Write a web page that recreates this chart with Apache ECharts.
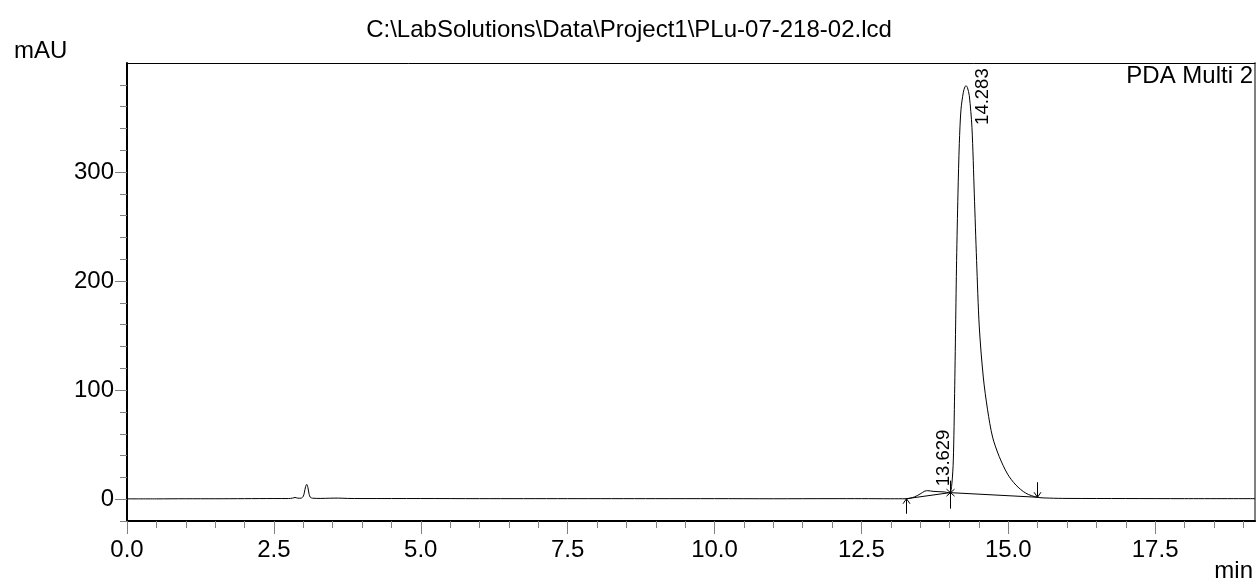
<!DOCTYPE html>
<html><head><meta charset="utf-8">
<script src="https://cdn.jsdelivr.net/npm/echarts@6/dist/echarts.min.js"></script>
<style>html,body{margin:0;padding:0;background:#fff}#c{width:1258px;height:586px}</style>
</head><body><div id="c"></div>
<script>
// ---- data ----
const titleText = 'C:\\LabSolutions\\Data\\Project1\\PLu-07-218-02.lcd';
const channelName = 'PDA Multi 2';
const yUnit = 'mAU';
const xUnit = 'min';

const times = [0.00,0.50,1.00,1.50,2.00,2.50,2.75,2.82,2.86,2.90,2.96,3.00,3.02,3.04,3.06,3.08,3.10,3.12,3.16,3.30,3.45,3.60,3.75,4.00,5.00,6.00,7.50,9.00,10.00,11.00,12.00,12.50,13.00,13.26,13.40,13.50,13.58,13.63,13.72,13.82,13.92,13.98,14.01,14.04,14.065,14.087,14.104,14.121,14.144,14.167,14.195,14.235,14.265,14.283,14.305,14.337,14.382,14.422,14.461,14.507,14.575,14.648,14.733,14.847,14.989,15.13,15.30,15.49,15.70,16.00,17.00,18.00,19.20];
const signal = [0.3,0.3,0.4,0.4,0.5,0.6,0.6,1.0,1.6,1.0,0.9,2.5,6.5,11.5,13.6,10.5,4.5,1.8,0.9,0.7,0.9,1.0,0.7,0.6,0.6,0.5,0.5,0.5,0.5,0.4,0.5,0.5,0.4,0.4,2.0,4.8,7.4,7.8,7.2,6.9,6.6,6.0,6.0,14,36,97,158,219,280,326,357,373,378.5,379,377.5,370,341,280,219,158,112,82,57,39,23,13,5.5,1.8,1.0,0.7,0.6,0.5,0.5];

const peakTimes = [13.629, 14.283];
const peakHeights = [7.8, 379];
const peakLabels = ['13.629', '14.283'];

const eventTimes = [13.26, 14.01, 15.49];
const eventLevels = [0.4, 6.0, 1.8];
const eventKinds = ['up', 'drop', 'down'];

const xMin = 0, xMax = 19.2, yMin = -20, yMax = 400;
const xMajorTicks = [0, 2.5, 5, 7.5, 10, 12.5, 15, 17.5];
const yMajorTicks = [0, 100, 200, 300];
const xMinorStep = 0.5, yMinorStep = 20;

// ---- styles ----
const FONT = "'Liberation Sans', Arial, sans-serif";
const TICK_COLOR = '#808080';
const peakLabelOffsets = [[25.5, -4.5], [26, 39]];

// derived tick lists
const xMinorTicks = [];
for (let i = 0; i * xMinorStep <= xMax + 1e-9; i++) {
  const v = +(i * xMinorStep).toFixed(2);
  if (xMajorTicks.indexOf(v) < 0) xMinorTicks.push(v);
}
const yMinorTicks = [];
for (let v = yMin; v < yMax; v += yMinorStep) {
  if (yMajorTicks.indexOf(v) < 0) yMinorTicks.push(v);
}

const chromData = times.map((t, i) => [t, signal[i]]);
const baseData = eventTimes.map((t, i) => [t, eventLevels[i]]);
const eventData = eventTimes.map((t, i) => [t, eventLevels[i], ['up','drop','down'].indexOf(eventKinds[i])]);
const peakData = peakTimes.map((t, i) => [t, peakHeights[i], i]);

const chart = echarts.init(document.getElementById('c'), null, {renderer: 'canvas'});

const hiddenAxisBits = {axisLabel: {show: false}, splitLine: {show: false}};

chart.setOption({
  animation: false,
  backgroundColor: '#fff',
  title: {
    text: titleText, left: 'center', top: 13,
    textStyle: {fontFamily: FONT, fontSize: 24, fontWeight: 'normal', color: '#000'}
  },
  graphic: [
    {type: 'text', left: 14, top: 39, style: {text: yUnit, font: '24px ' + FONT, fill: '#000'}},
    {type: 'text', right: 5, top: 64, style: {text: channelName, font: '24px ' + FONT, fill: '#000'}},
    {type: 'text', right: 5, top: 559, style: {text: xUnit, font: '24px ' + FONT, fill: '#000'}}
  ],
  grid: {left: 127, right: 3, top: 63, bottom: 65, containLabel: false, outerBoundsMode: 'none'},
  xAxis: [
    {type: 'value', min: xMin, max: xMax, position: 'bottom',
     axisLine: {onZero: false, lineStyle: {color: '#000', width: 2}},
     axisTick: {customValues: xMajorTicks, length: 13, lineStyle: {color: TICK_COLOR, width: 1}},
     axisLabel: {customValues: xMajorTicks, margin: 17, fontSize: 24, fontFamily: FONT, color: '#000',
                 formatter: v => v.toFixed(1)},
     splitLine: {show: false}},
    Object.assign({type: 'value', min: xMin, max: xMax, position: 'bottom',
     axisLine: {show: false, onZero: false},
     axisTick: {customValues: xMinorTicks, length: 7, lineStyle: {color: TICK_COLOR, width: 1}}}, hiddenAxisBits),
    Object.assign({type: 'value', min: xMin, max: xMax, position: 'top',
     axisLine: {show: true, onZero: false, lineStyle: {color: '#000', width: 1}},
     axisTick: {show: false}}, hiddenAxisBits)
  ],
  yAxis: [
    {type: 'value', min: yMin, max: yMax, position: 'left',
     axisLine: {show: true, onZero: false, lineStyle: {color: '#000', width: 2}},
     axisTick: {show: true, customValues: yMajorTicks, length: 12, lineStyle: {color: TICK_COLOR, width: 1}},
     axisLabel: {customValues: yMajorTicks, margin: 13, fontSize: 24, fontFamily: FONT, color: '#000'},
     splitLine: {show: false}},
    Object.assign({type: 'value', min: yMin, max: yMax, position: 'left',
     axisLine: {show: false, onZero: false},
     axisTick: {show: true, customValues: yMinorTicks, length: 7, lineStyle: {color: TICK_COLOR, width: 1}}}, hiddenAxisBits),
    Object.assign({type: 'value', min: yMin, max: yMax, position: 'right',
     axisLine: {show: true, onZero: false, lineStyle: {color: '#808080', width: 2}},
     axisTick: {show: false}}, hiddenAxisBits)
  ],
  series: [
    {type: 'line', name: 'chromatogram', xAxisIndex: 0, yAxisIndex: 0, data: chromData,
     showSymbol: false, symbol: 'none', smooth: 0.3,
     lineStyle: {color: '#000', width: 1}, z: 3},
    {type: 'line', name: 'baseline', xAxisIndex: 0, yAxisIndex: 0, data: baseData,
     showSymbol: false, symbol: 'none', lineStyle: {color: '#000', width: 1}, z: 3},
    {type: 'custom', name: 'events', xAxisIndex: 0, yAxisIndex: 0, data: eventData, clip: false, z: 4,
     encode: {x: 0, y: 1},
     renderItem: function (params, api) {
       const p = api.coord([api.value(0), api.value(1)]);
       const x = Math.round(p[0]) + 0.5, y = p[1];
       const kind = api.value(2);
       const st = {stroke: '#000', lineWidth: 1, fill: null};
       let children;
       if (kind === 0) {
         children = [
           {type: 'line', shape: {x1: x, y1: y + 15, x2: x, y2: y}, style: st},
           {type: 'polyline', shape: {points: [[x - 3.5, y + 5], [x, y], [x + 3.5, y + 5]]}, style: st}
         ];
       } else if (kind === 1) {
         children = [
           {type: 'line', shape: {x1: x, y1: y - 12, x2: x, y2: y + 16}, style: st},
           {type: 'line', shape: {x1: x - 4, y1: y - 3.5, x2: x + 4, y2: y + 3.5}, style: st},
           {type: 'line', shape: {x1: x + 4, y1: y - 3.5, x2: x - 4, y2: y + 3.5}, style: st}
         ];
       } else {
         children = [
           {type: 'line', shape: {x1: x, y1: y - 15, x2: x, y2: y}, style: st},
           {type: 'polyline', shape: {points: [[x - 3.5, y - 5], [x, y], [x + 3.5, y - 5]]}, style: st}
         ];
       }
       return {type: 'group', children: children};
     }},
    {type: 'custom', name: 'peakLabels', xAxisIndex: 0, yAxisIndex: 0, data: peakData, clip: false, z: 5,
     encode: {x: 0, y: 1},
     renderItem: function (params, api) {
       const idx = api.value(2);
       const p = api.coord([api.value(0), api.value(1)]);
       const off = peakLabelOffsets[idx];
       return {
         type: 'text', x: p[0] + off[0], y: p[1] + off[1], rotation: Math.PI / 2,
         style: {text: peakLabels[idx], font: '18.5px ' + FONT, fill: '#000',
                 align: 'left', verticalAlign: 'bottom', textAlign: 'left', textVerticalAlign: 'bottom'}
       };
     }}
  ]
});
</script></body></html>
